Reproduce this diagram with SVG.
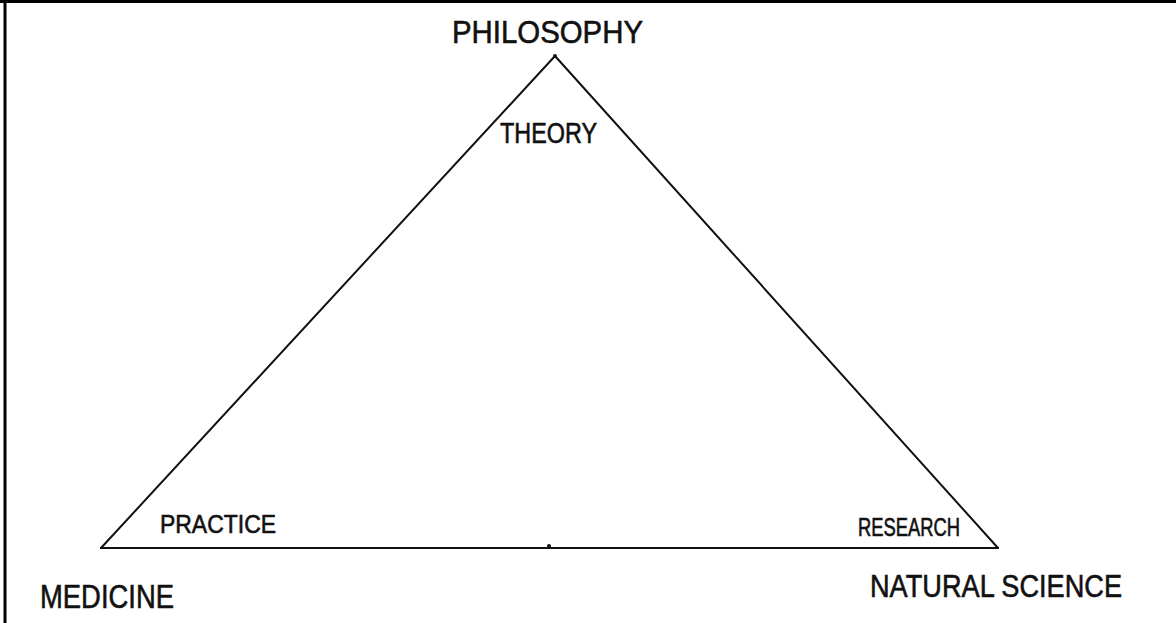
<svg xmlns="http://www.w3.org/2000/svg" width="1176" height="623" viewBox="0 0 1176 623">
<style>
.t{font-family:"Liberation Sans","DejaVu Sans",sans-serif;fill:#111;stroke:#111;stroke-width:0.6;font-weight:normal}
.e{fill:none;stroke:#111;stroke-width:2;stroke-linejoin:round;stroke-linecap:round}
</style>
<rect x="0" y="0" width="1176" height="623" fill="#fff"/>
<g id="frame"><path d="M5 0 V623 M0 1.5 H1176" stroke="#000" stroke-width="3" fill="none"/></g>
<g id="connectors">
<path class="e" d="M555 56 L101 548"/>
<path class="e" d="M555 56 L998 548"/>
<path class="e" d="M101 548 L998 548"/>
<circle cx="549" cy="546" r="2" fill="#111"/>
<circle cx="555" cy="56" r="2" fill="#111"/>
</g>
<g id="philosophy"><text class="t" x="452" y="43" font-size="32" textLength="191" lengthAdjust="spacingAndGlyphs">PHILOSOPHY</text></g>
<g id="theory"><text class="t" x="500" y="143" font-size="29" textLength="97" lengthAdjust="spacingAndGlyphs">THEORY</text></g>
<g id="practice"><text class="t" x="160" y="533" font-size="25" textLength="116" lengthAdjust="spacingAndGlyphs">PRACTICE</text></g>
<g id="research"><text class="t" x="858" y="536" font-size="25" textLength="102" lengthAdjust="spacingAndGlyphs">RESEARCH</text></g>
<g id="medicine"><text class="t" x="40" y="608" font-size="33" textLength="134" lengthAdjust="spacingAndGlyphs">MEDICINE</text></g>
<g id="natural-science"><text class="t" x="870" y="597" font-size="32" textLength="252" lengthAdjust="spacingAndGlyphs">NATURAL SCIENCE</text></g>
</svg>
